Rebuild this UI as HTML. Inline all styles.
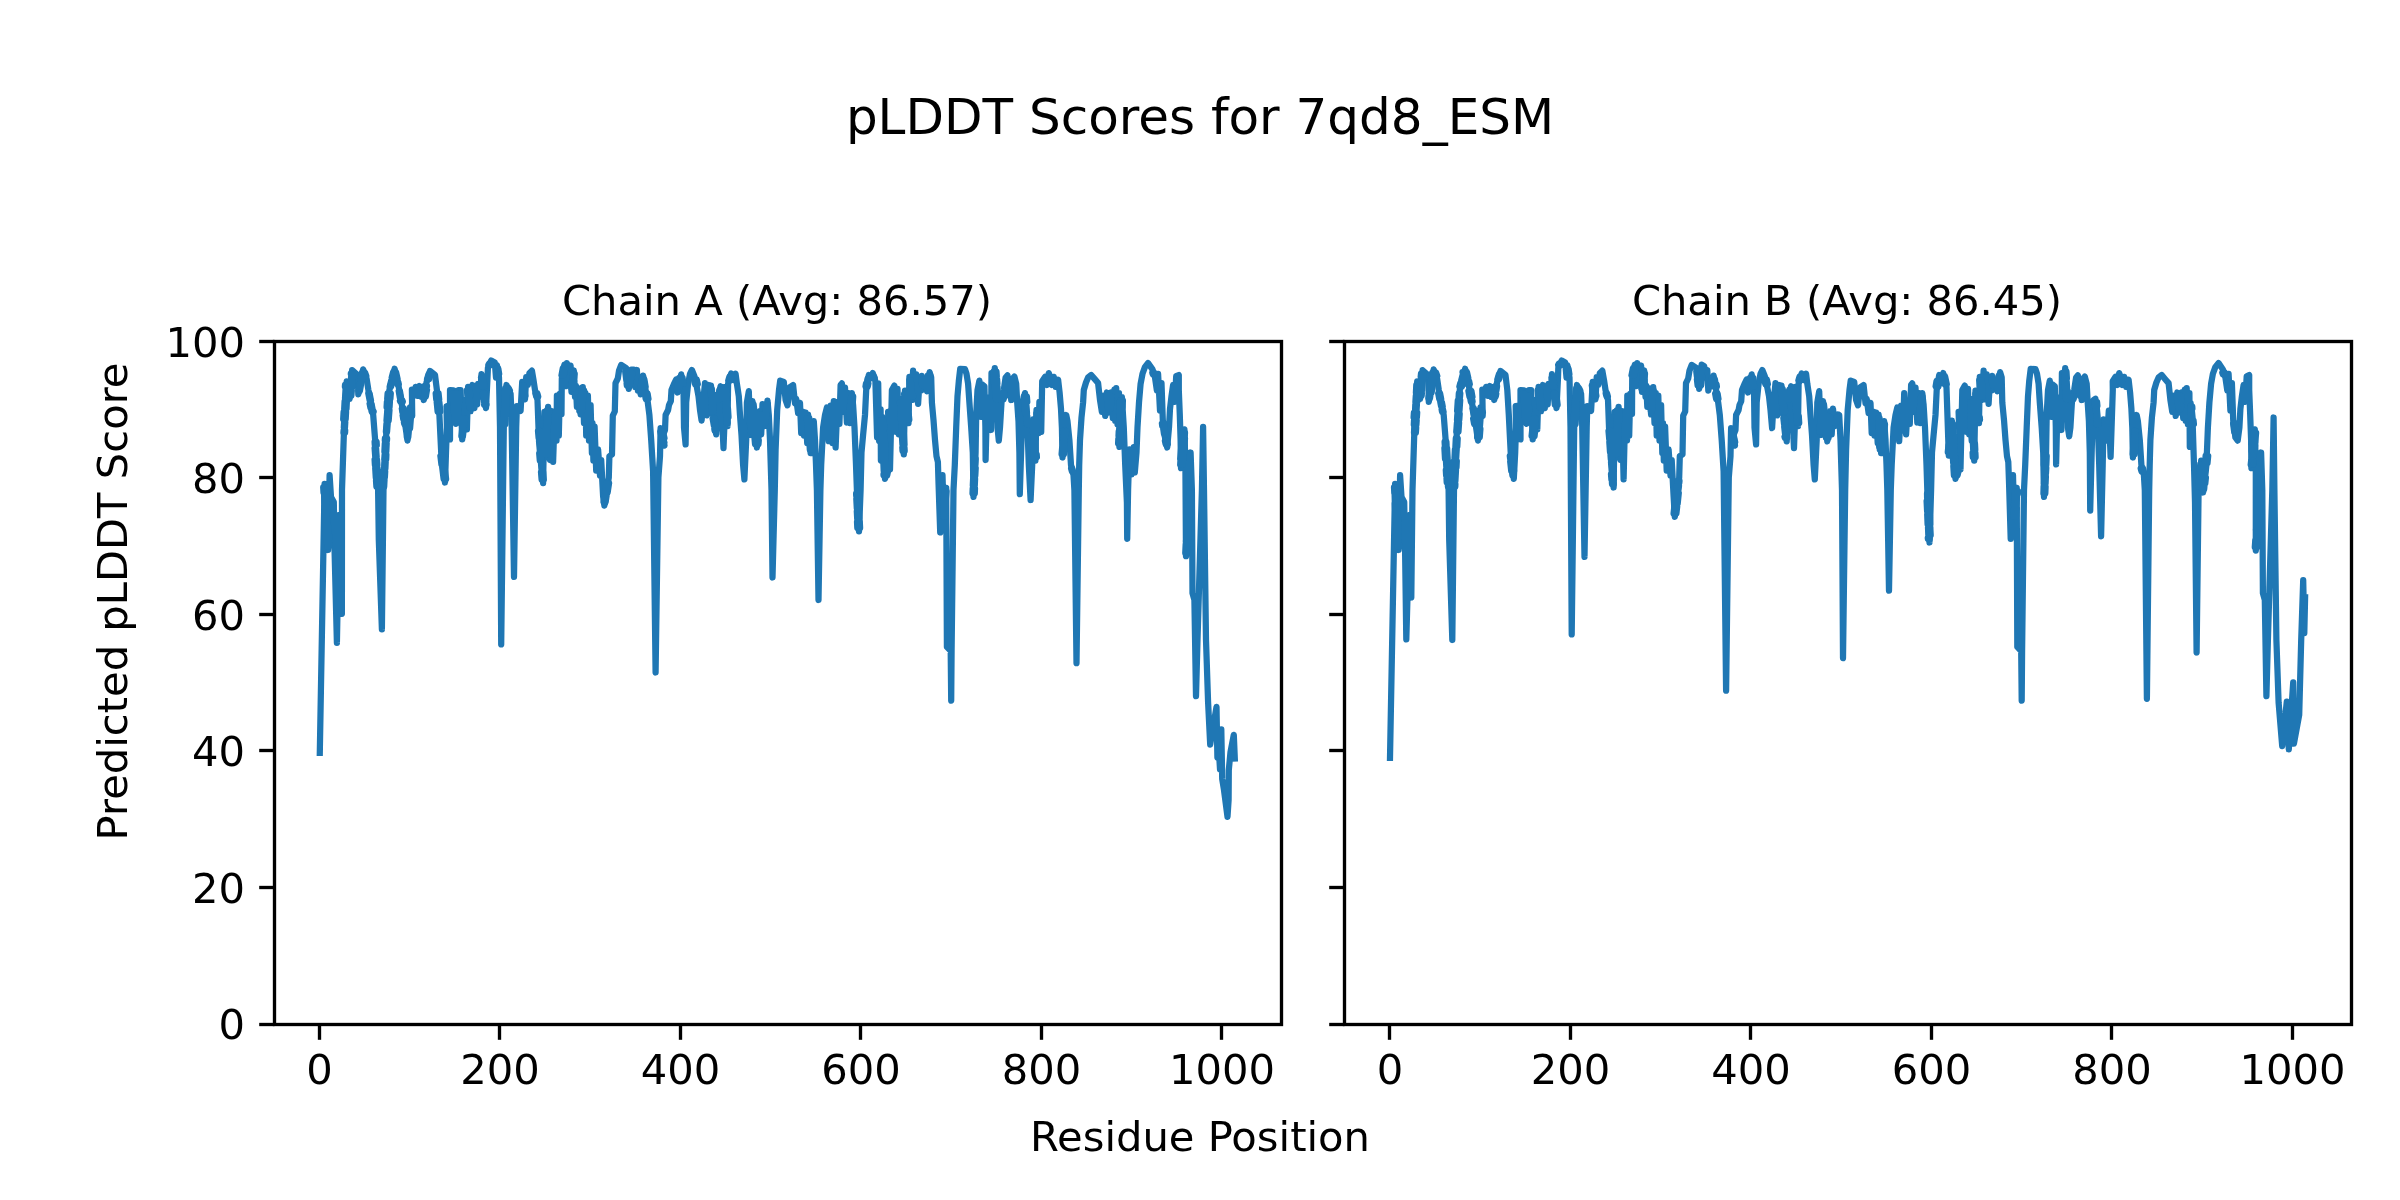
<!DOCTYPE html>
<html lang="en"><head><meta charset="utf-8"><title>pLDDT Scores for 7qd8_ESM</title>
<style>html,body{margin:0;padding:0;background:#fff;width:2400px;height:1200px;overflow:hidden}svg{display:block;will-change:transform;-webkit-font-smoothing:antialiased}text{font-family:"DejaVu Sans","Liberation Sans",sans-serif;fill:#000}.t{font-size:41.667px}.T{font-size:50.000px}.sp{fill:none;stroke:#000;stroke-width:3.333;stroke-linejoin:miter;stroke-linecap:square}.tk{stroke:#000;stroke-width:3.333;fill:none}.ln{fill:none;stroke:#1f77b4;stroke-width:6.25;stroke-linejoin:round;stroke-linecap:square}</style></head><body>
<svg width="2400" height="1200" viewBox="0 0 2400 1200">
<rect x="0" y="0" width="2400" height="1200" fill="#fff"/>
<text class="T" x="1200" y="134.00" text-anchor="middle">pLDDT Scores for 7qd8_ESM</text>
<clipPath id="c0"><rect x="274.50" y="341.50" width="1007.00" height="683.00"/></clipPath>
<polyline class="ln" clip-path="url(#c0)" points="319.8,752.9 324.6,483.9 328.1,550.0 329.6,475.2 331.0,497.0 333.8,502.0 334.6,552.0 336.9,642.9 339.3,515.0 341.9,613.8 342.0,490.0 343.8,436.0 346.7,381.3 349.6,399.0 352.1,370.2 357.9,375.4 358.3,394.4 363.1,369.4 366.7,379.2 368.4,390.0 373.2,415.0 375.0,438.3 378.1,490.0 378.8,540.0 381.9,629.4 383.5,490.0 386.2,435.0 389.4,390.0 394.6,368.7 398.8,387.5 401.9,405.0 405.6,427.5 407.5,440.6 410.0,407.5 412.2,415.9 411.9,389.6 414.0,395.6 415.6,386.9 417.5,395.9 419.4,386.0 421.0,396.9 422.2,387.1 423.8,400.0 426.5,382.5 430.0,370.9 435.0,375.0 436.9,390.0 439.4,415.0 441.2,452.5 445.0,482.5 446.0,452.5 446.9,427.5 446.5,406.2 449.0,405.6 450.0,439.4 450.0,390.0 453.5,390.4 456.0,423.8 458.5,390.0 460.6,390.0 462.2,439.4 464.8,415.0 465.2,400.0 466.9,429.4 468.1,386.9 470.6,411.2 472.5,385.0 474.4,408.1 475.6,386.2 477.2,404.4 478.1,383.8 480.0,396.9 481.5,374.1 483.8,390.0 486.0,408.1 487.5,377.5 487.9,368.1 491.2,360.6 494.8,362.5 496.0,377.5 496.9,365.0 499.0,377.5 500.0,427.5 501.2,644.4 503.8,427.5 506.5,385.0 510.6,393.8 511.5,415.0 514.0,576.9 516.2,427.5 516.9,406.2 520.6,410.9 522.2,381.9 525.0,399.4 526.2,377.1 527.8,385.0 529.4,373.1 531.9,370.6 533.5,380.0 535.0,390.0 537.5,400.0 538.5,427.5 543.1,483.1 544.4,411.9 546.0,457.5 548.1,406.9 550.0,460.0 551.5,411.2 553.1,461.9 554.8,411.6 556.5,440.6 556.9,395.6 558.8,435.6 559.8,393.8 561.5,414.1 561.8,378.8 564.4,364.6 565.6,386.2 566.9,363.1 568.8,373.8 570.6,365.6 571.5,391.9 573.8,370.4 575.0,396.9 575.9,385.9 576.9,406.9 578.8,388.4 580.6,414.4 582.8,387.1 584.0,423.1 585.4,393.1 586.2,435.6 587.9,395.6 589.0,440.6 590.6,405.0 591.9,453.1 592.5,423.1 593.4,460.6 594.6,426.6 596.2,470.6 598.1,449.4 600.0,475.6 601.2,460.0 603.1,496.2 604.4,505.6 608.8,477.5 609.4,456.2 612.0,454.4 612.8,415.6 614.8,411.5 615.5,383.1 617.8,378.5 619.0,370.6 621.2,365.0 626.2,368.1 628.8,388.8 631.2,369.6 633.8,369.6 635.2,386.9 636.9,370.0 637.9,390.6 639.0,383.8 640.6,394.4 643.1,375.6 645.6,390.0 647.8,402.5 649.4,415.0 651.2,440.0 653.1,471.2 655.6,672.5 658.4,477.5 660.0,456.2 660.6,428.1 664.5,445.6 663.0,435.0 665.0,430.0 665.6,415.0 668.1,410.0 669.0,405.0 670.8,401.2 671.5,390.0 674.0,383.8 676.2,379.4 677.5,392.5 681.2,374.4 683.5,390.0 684.0,427.5 685.6,444.4 686.2,402.5 688.1,383.8 690.0,373.8 691.9,370.0 694.4,376.2 696.9,387.5 698.5,396.2 700.0,410.0 701.6,420.6 703.1,402.5 705.0,383.1 706.9,415.4 708.8,385.0 710.2,412.5 711.0,385.6 713.1,415.0 716.2,434.4 717.5,402.5 720.6,386.2 722.5,427.5 723.5,448.1 724.8,415.0 725.0,386.9 727.5,426.2 728.1,383.8 731.2,373.4 733.4,380.0 735.6,373.8 736.9,383.8 738.8,396.2 740.0,415.0 741.5,435.0 743.1,465.0 744.4,479.4 746.2,440.0 746.9,402.5 748.8,391.2 750.4,435.0 752.5,401.2 756.9,447.5 759.8,411.2 761.2,434.4 762.5,404.1 764.4,426.2 767.5,400.6 768.8,415.0 770.0,440.0 771.5,490.0 772.5,577.5 774.8,490.0 775.6,450.0 777.2,410.0 779.0,390.0 780.2,380.6 783.8,381.9 785.6,400.0 787.5,405.4 789.4,390.0 790.0,387.1 793.1,385.0 795.0,403.1 796.2,398.8 798.1,413.1 800.0,402.9 801.2,433.1 802.5,411.6 804.0,435.6 805.6,412.5 807.2,443.1 808.1,414.6 810.6,453.1 813.8,421.2 815.0,440.0 816.0,465.0 816.9,490.0 818.5,600.0 820.4,490.0 821.2,465.0 823.1,427.5 825.0,415.0 826.9,407.5 828.8,441.2 830.6,405.6 832.5,443.1 833.8,401.2 835.6,447.5 837.5,401.9 839.4,423.8 840.6,385.0 841.9,383.4 843.5,411.9 845.0,387.5 846.9,422.5 848.5,393.1 849.8,423.1 851.9,393.1 853.1,405.0 854.5,427.5 856.0,465.0 856.9,490.0 859.0,531.3 860.6,490.0 861.5,452.5 863.1,435.0 865.0,415.0 866.2,390.0 868.8,375.0 870.6,378.1 872.8,373.1 875.4,381.2 877.1,437.5 878.2,383.4 879.1,440.9 880.6,409.4 880.9,460.6 882.2,416.9 885.0,478.8 888.1,465.0 889.4,440.0 888.1,411.9 890.0,469.4 891.9,390.0 894.4,385.6 896.0,431.9 897.5,388.8 898.8,434.4 900.6,398.8 903.8,454.4 905.0,390.6 908.5,423.1 909.4,376.9 911.9,400.0 913.1,370.6 914.4,399.4 916.2,374.4 918.1,403.8 919.8,376.9 921.0,390.6 921.9,375.9 924.0,389.4 925.0,384.4 926.9,391.2 929.6,372.1 931.2,377.5 931.9,402.5 933.5,420.0 935.0,440.0 936.5,456.2 937.9,462.0 938.6,485.0 940.2,532.5 942.5,475.2 943.8,520.0 946.2,487.9 946.9,646.9 950.7,651.0 951.2,700.6 951.6,650.0 953.5,490.0 954.8,465.0 956.2,427.5 957.5,396.2 958.8,381.2 960.2,368.8 965.0,369.1 966.5,373.8 968.1,383.8 969.4,402.5 971.2,427.5 972.8,452.5 973.5,496.9 975.6,452.5 976.2,415.0 977.5,390.0 979.4,380.6 981.0,416.9 981.9,384.4 984.4,386.2 985.4,427.5 985.6,460.0 987.2,397.5 989.4,397.5 991.0,430.0 991.5,373.1 993.1,419.4 994.8,368.1 996.9,402.5 997.5,427.5 998.8,440.6 1000.0,427.5 1001.5,402.5 1003.8,390.0 1005.6,377.5 1007.5,375.4 1009.4,395.6 1010.2,379.4 1011.2,400.0 1012.5,378.8 1014.4,376.6 1016.2,383.8 1017.2,402.5 1018.5,421.2 1019.4,452.5 1019.8,494.1 1021.9,427.5 1023.1,400.0 1025.0,393.1 1027.5,427.5 1028.8,465.0 1030.6,500.0 1032.2,465.0 1033.1,419.4 1035.4,460.6 1036.5,410.0 1038.5,433.1 1039.4,401.9 1041.2,431.9 1042.2,381.2 1045.0,376.9 1046.9,385.0 1048.8,373.1 1051.9,385.0 1053.8,376.9 1055.6,386.9 1058.1,379.6 1059.6,392.5 1061.0,408.8 1061.9,427.5 1062.5,457.5 1065.0,427.5 1066.2,415.0 1067.5,421.2 1069.4,440.0 1071.0,465.0 1073.5,475.0 1074.4,490.0 1076.5,663.1 1078.8,490.0 1079.2,465.0 1080.0,440.0 1081.5,417.5 1083.1,402.5 1083.8,390.0 1086.0,382.5 1088.1,377.5 1091.2,375.0 1095.0,379.4 1098.1,383.1 1100.0,400.0 1101.9,411.9 1103.8,395.6 1105.2,415.9 1106.9,392.5 1109.0,412.5 1111.2,392.5 1112.8,418.1 1114.4,389.6 1115.2,420.9 1116.2,388.1 1117.5,424.4 1119.0,393.1 1119.4,446.9 1121.9,397.1 1123.8,427.5 1125.2,465.0 1126.9,502.5 1127.2,538.8 1128.1,490.0 1129.4,449.4 1131.5,474.4 1133.8,447.1 1134.8,472.5 1136.5,452.5 1137.5,427.5 1139.0,402.5 1140.6,383.8 1142.5,373.8 1145.0,366.9 1148.1,363.1 1152.5,369.4 1155.0,377.5 1156.9,390.6 1158.1,373.8 1160.0,410.6 1161.5,383.1 1162.8,420.0 1165.0,437.5 1167.2,447.5 1169.0,427.5 1170.0,408.8 1171.5,396.2 1173.1,385.0 1174.8,401.9 1176.2,376.2 1178.8,375.0 1178.8,390.0 1179.8,415.0 1180.6,440.0 1181.0,468.1 1184.4,429.4 1185.4,465.0 1186.0,556.2 1190.0,490.0 1190.6,452.5 1191.9,490.0 1192.5,593.1 1194.4,600.0 1196.0,696.2 1197.5,640.0 1201.9,490.0 1203.1,426.9 1204.0,490.0 1206.0,640.0 1208.1,702.5 1210.2,744.6 1216.5,706.9 1217.4,757.4 1219.0,752.0 1220.0,769.4 1221.3,729.4 1222.2,778.9 1224.0,790.0 1227.5,816.9 1228.6,800.0 1228.8,770.0 1230.5,752.0 1233.8,734.9 1234.8,758.5"/>
<path class="ln" style="stroke-linecap:round" clip-path="url(#c0)" d="M325.9 487.4L326.2 492.6M323.2 487.4L323.5 492.6M326.3 495.6L326.7 502.8M324.1 495.6L324.4 502.8M326.8 505.8L327.1 511.1M324.5 505.8L324.8 511.1M326.7 514.1L327.2 523.6M325.4 514.1L325.9 523.6M328.3 526.6L328.6 531.3M325.6 526.6L325.8 531.3M328.9 534.3L329.2 538.5M325.6 534.3L325.8 538.5M328.9 541.5L329.1 546.5M327.0 541.5L327.3 546.5M345.1 432.5L345.2 430.4M343.5 432.5L343.6 430.4M345.0 427.4L345.3 422.1M343.8 427.4L344.1 422.1M345.7 419.1L346.1 411.8M343.2 419.1L343.6 411.8M346.5 408.9L346.9 401.2M344.2 408.9L344.6 401.2M346.8 398.2L347.3 389.6M345.0 398.2L345.5 389.6M348.1 386.6L348.2 384.8M344.9 386.6L345.0 384.8M348.1 384.8L349.2 391.6M346.6 384.8L347.7 391.6M349.4 394.6L349.5 395.5M347.5 394.6L347.6 395.5M351.4 395.5L351.8 390.7M349.0 395.5L349.4 390.7M352.1 387.7L353.0 377.0M350.2 387.7L351.1 377.0M353.3 374.1L353.4 373.7M350.8 374.1L350.8 373.7M359.9 390.9L361.5 382.2M358.5 390.9L360.1 382.2M362.6 379.3L363.9 372.8M360.4 379.3L361.7 372.8M365.1 372.7L366.3 375.9M362.7 372.7L363.8 375.9M369.6 393.4L371.0 400.6M368.3 393.4L369.7 400.6M371.5 403.6L372.4 408.2M369.6 403.6L370.5 408.2M373.6 411.1L373.7 411.6M371.5 411.1L371.6 411.6M376.6 441.8L376.8 445.1M374.6 441.8L374.8 445.1M376.1 448.1L376.6 456.6M374.6 448.1L375.2 456.6M377.0 459.6L377.4 465.1M374.6 459.6L374.9 465.1M377.6 468.1L378.2 477.7M375.2 468.1L375.8 477.7M378.5 480.7L378.8 486.5M376.0 480.7L376.4 486.5M384.2 486.5L384.5 480.0M382.0 486.5L382.3 480.0M384.9 477.0L385.2 471.5M382.7 477.0L383.0 471.5M385.4 468.5L385.7 462.2M384.1 468.5L384.4 462.2M386.2 459.3L386.4 454.6M384.3 459.3L384.6 454.6M386.3 451.6L386.7 443.4M384.4 451.6L384.8 443.4M387.0 440.4L387.1 438.5M384.8 440.4L384.9 438.5M387.1 431.5L387.7 423.5M385.9 431.5L386.5 423.5M388.7 420.5L389.5 410.1M386.5 420.5L387.3 410.1M389.6 407.1L389.9 401.8M386.6 407.1L386.9 401.8M390.4 398.8L390.8 393.5M387.2 398.8L387.6 393.5M391.2 386.6L392.7 380.6M389.7 386.6L391.2 380.6M394.1 377.6L395.4 372.1M391.7 377.6L393.1 372.1M396.1 372.1L397.6 378.9M393.9 372.1L395.4 378.9M398.3 381.8L398.8 384.1M396.9 381.8L397.4 384.1M399.9 390.9L401.1 397.9M398.7 390.9L399.9 397.9M402.6 400.8L402.8 401.6M399.9 400.8L400.1 401.6M404.0 408.5L404.7 412.4M401.8 408.5L402.4 412.4M404.3 415.3L405.0 419.4M402.6 415.3L403.3 419.4M405.4 422.3L405.7 424.0M403.9 422.3L404.2 424.0M408.3 437.1L408.8 431.1M406.9 437.1L407.3 431.1M410.1 428.2L410.9 417.9M407.2 428.2L408.0 417.9M410.6 415.0L410.9 411.0M408.9 415.0L409.2 411.0M411.3 410.9L411.8 412.5M409.3 410.9L409.8 412.5M425.9 396.5L427.0 389.7M423.9 396.5L424.9 389.7M426.9 386.8L427.0 386.0M424.5 386.8L424.6 386.0M429.2 379.1L430.7 374.2M427.0 379.1L428.5 374.2M438.6 393.5L439.2 399.3M435.7 393.5L436.2 399.3M439.4 402.3L440.3 411.5M436.7 402.3L437.6 411.5M442.5 456.0L443.6 464.3M440.4 456.0L441.4 464.3M444.6 467.3L446.1 479.0M442.2 467.3L443.6 479.0M455.3 393.9L455.8 401.4M452.6 393.9L453.2 401.4M455.4 404.4L456.1 412.7M453.4 404.4L454.0 412.7M455.9 415.7L456.2 420.3M454.2 415.7L454.5 420.3M457.8 420.3L458.5 411.3M454.9 420.3L455.6 411.3M458.5 408.3L459.0 401.6M456.0 408.3L456.5 401.6M459.3 398.6L459.7 393.5M457.4 398.6L457.7 393.5M463.0 435.9L463.8 428.7M461.4 435.9L462.2 428.7M464.4 425.7L465.1 418.5M462.3 425.7L463.1 418.5M469.7 390.4L470.2 395.8M466.9 390.4L467.4 395.8M469.8 398.8L470.4 404.6M468.6 398.8L469.1 404.6M470.9 407.5L470.9 407.8M469.6 407.5L469.6 407.8M483.2 377.6L484.5 386.5M481.0 377.6L482.3 386.5M485.0 393.5L486.0 401.7M482.9 393.5L483.9 401.7M486.5 404.6L486.5 404.7M484.1 404.6L484.1 404.7M490.9 364.9L491.4 363.8M488.4 364.9L488.9 363.8M498.3 368.5L499.2 374.0M496.9 368.5L497.8 374.0M505.5 424.0L505.8 418.5M502.5 424.0L502.8 418.5M506.2 415.5L506.7 406.6M503.8 415.5L504.3 406.6M506.3 403.6L506.6 398.4M504.5 403.6L504.9 398.4M506.8 395.4L507.2 388.5M504.6 395.4L505.1 388.5M508.8 388.2L509.9 390.6M506.5 388.2L507.6 390.6M523.8 385.3L525.4 395.9M522.3 385.3L524.0 395.9M537.4 393.4L538.2 396.6M535.4 393.4L536.2 396.6M539.9 431.0L540.5 437.9M538.0 431.0L538.6 437.9M540.0 440.9L540.8 450.4M539.0 440.9L539.8 450.4M541.1 453.4L541.7 460.6M539.2 453.4L539.8 460.6M542.1 463.6L542.6 469.2M541.0 463.6L541.5 469.2M543.2 472.2L543.8 479.6M541.0 472.2L541.6 479.6M547.6 454.0L547.9 447.4M544.5 454.0L544.8 447.4M547.2 444.4L547.6 435.6M545.5 444.4L545.9 435.6M547.5 432.6L547.7 427.4M546.0 432.6L546.2 427.4M548.0 424.4L548.4 415.4M546.6 424.4L547.0 415.4M549.2 412.4L549.3 410.4M546.8 412.4L546.9 410.4M563.8 375.3L565.1 368.1M561.5 375.3L562.8 368.1M573.4 388.4L574.2 380.9M571.4 388.4L572.1 380.9M574.3 377.9L574.7 373.9M572.4 377.9L572.8 373.9M582.1 410.9L582.5 405.7M579.3 410.9L579.7 405.7M582.7 402.7L583.2 396.1M580.0 402.7L580.5 396.1M583.9 393.1L584.1 390.6M581.3 393.1L581.5 390.6M605.6 502.2L606.6 495.7M603.6 502.2L604.6 495.7M607.6 492.7L609.1 483.1M605.0 492.7L606.5 483.1M627.8 371.6L628.8 380.4M625.2 371.6L626.3 380.4M629.7 383.4L629.9 385.3M626.6 383.4L626.8 385.3M629.7 385.3L630.3 380.9M628.2 385.3L628.8 380.9M631.6 377.9L632.2 373.1M629.1 377.9L629.8 373.1M642.5 390.9L642.8 388.7M640.6 390.9L640.9 388.7M642.4 385.8L643.3 379.1M640.9 385.8L641.8 379.1M644.3 379.1L645.6 386.6M643.1 379.1L644.4 386.6M647.6 393.5L648.5 399.0M644.7 393.5L645.7 399.0M663.0 431.5L664.5 438.2M660.3 431.5L661.8 438.2M664.0 441.1L664.3 442.2M662.8 441.1L663.1 442.2M679.0 389.1L680.1 383.5M676.9 389.1L678.0 383.5M681.0 380.6L681.6 377.8M678.5 380.6L679.0 377.8M682.6 377.8L683.4 383.7M680.9 377.8L681.7 383.7M696.8 379.7L697.8 384.1M694.1 379.7L695.0 384.1M711.9 389.1L712.3 395.1M710.2 389.1L710.6 395.1M713.1 398.1L713.6 405.6M711.5 398.1L712.0 405.6M713.7 408.6L713.9 411.5M711.7 408.6L712.0 411.5M714.8 418.5L716.0 426.0M712.6 418.5L713.9 426.0M715.9 428.9L716.2 430.9M714.3 428.9L714.6 430.9M719.8 399.1L720.7 394.3M716.6 399.1L717.5 394.3M720.7 391.3L721.0 389.7M719.1 391.3L719.4 389.7M726.7 390.4L727.0 395.4M723.7 390.4L724.0 395.4M726.5 398.4L727.0 405.7M725.1 398.4L725.5 405.7M728.0 408.7L728.5 417.0M725.8 408.7L726.3 417.0M727.5 420.0L727.7 422.8M726.5 420.0L726.6 422.8M730.4 380.4L731.5 376.7M728.3 380.4L729.4 376.7M751.8 431.5L752.1 427.0M750.1 431.5L750.3 427.0M751.6 424.0L752.2 414.9M750.0 424.0L750.6 414.9M752.5 411.9L752.9 404.7M750.7 411.9L751.2 404.7M753.7 404.7L754.2 409.8M751.9 404.7L752.4 409.8M754.2 412.8L754.9 420.4M752.9 412.8L753.6 420.4M755.8 423.4L756.6 431.8M753.5 423.4L754.3 431.8M756.9 434.8L757.7 444.0M754.2 434.8L755.0 444.0M758.5 444.0L758.8 440.4M755.7 444.0L756.0 440.4M758.5 437.4L759.3 427.1M756.9 437.4L757.7 427.1M759.4 424.1L760.2 414.7M757.0 424.1L757.8 414.7M765.4 422.8L766.4 414.6M764.1 422.8L765.1 414.6M766.9 411.6L767.8 404.1M765.6 411.6L766.6 404.1M809.3 418.1L809.8 425.9M806.9 418.1L807.4 425.9M810.0 428.9L810.3 433.8M807.8 428.9L808.1 433.8M810.2 436.8L810.5 440.9M808.3 436.8L808.5 440.9M811.7 443.9L812.1 449.6M809.5 443.9L809.8 449.6M812.4 449.6L812.9 444.1M809.9 449.6L810.5 444.1M812.4 441.1L813.3 432.4M811.3 441.1L812.2 432.4M813.4 429.4L813.9 424.7M811.8 429.4L812.3 424.7M851.1 419.6L851.5 414.0M849.4 419.6L849.8 414.0M851.3 411.1L851.6 405.8M849.1 411.1L849.5 405.8M852.8 402.8L853.2 396.6M850.7 402.8L851.1 396.6M858.7 493.5L858.8 495.9M856.1 493.5L856.2 495.9M858.2 498.9L858.6 508.3M856.3 498.9L856.8 508.3M858.9 511.3L859.3 518.9M856.8 511.3L857.2 518.9M859.8 521.9L860.1 527.8M857.0 521.9L857.3 527.8M867.8 386.5L868.4 383.3M865.5 386.5L866.0 383.3M868.5 380.4L868.8 378.5M867.2 380.4L867.6 378.5M874.2 376.5L874.7 377.9M872.3 376.5L872.7 377.9M883.7 420.4L884.1 428.0M880.9 420.4L881.2 428.0M883.8 431.0L884.2 439.4M881.7 431.0L882.1 439.4M885.1 442.4L885.4 449.9M881.9 442.4L882.3 449.9M885.4 452.9L885.7 458.7M882.5 452.9L882.7 458.7M885.7 461.7L886.1 471.1M883.3 461.7L883.7 471.1M886.3 474.1L886.4 475.3M883.5 474.1L883.5 475.3M887.2 475.3L888.7 468.4M884.8 475.3L886.4 468.4M901.3 402.2L901.7 409.3M900.0 402.2L900.4 409.3M901.8 412.3L902.2 419.6M900.5 412.3L900.9 419.6M903.2 422.6L903.6 431.0M901.3 422.6L901.7 431.0M903.9 434.0L904.5 444.6M901.8 434.0L902.4 444.6M904.5 447.6L904.7 450.9M902.3 447.6L902.5 450.9M907.1 394.1L907.6 398.8M904.1 394.1L904.6 398.8M907.6 401.8L908.5 410.6M904.5 401.8L905.5 410.6M908.7 413.6L909.3 419.6M906.1 413.6L906.8 419.6M910.7 380.4L911.1 384.1M909.3 380.4L909.7 384.1M911.4 387.1L911.9 392.4M910.0 387.1L910.5 392.4M913.0 395.4L913.1 396.5M910.3 395.4L910.4 396.5M924.1 379.3L925.1 385.9M921.3 379.3L922.3 385.9M928.6 387.8L929.9 378.9M925.9 387.8L927.2 378.9M930.3 375.9L930.3 375.6M927.7 375.9L927.7 375.6M945.7 516.5L945.9 514.2M943.5 516.5L943.6 514.2M945.1 511.2L945.6 503.9M943.4 511.2L944.0 503.9M945.7 500.9L946.5 491.4M943.6 500.9L944.4 491.4M974.8 493.4L975.0 488.4M972.5 493.4L972.7 488.4M974.8 485.4L975.1 478.9M972.8 485.4L973.1 478.9M975.3 475.9L975.7 468.0M973.2 475.9L973.6 468.0M975.4 465.0L975.7 458.9M974.3 465.0L974.6 458.9M996.5 371.6L996.8 376.3M993.6 371.6L993.9 376.3M997.1 379.3L997.4 383.7M993.8 379.3L994.1 383.7M997.5 386.7L997.8 391.2M994.9 386.7L995.2 391.2M998.0 394.2L998.3 399.0M995.6 394.2L995.9 399.0M1003.7 399.1L1004.7 393.4M1000.8 399.1L1001.8 393.4M1026.9 396.6L1027.3 401.9M1023.8 396.6L1024.2 401.9M1026.4 404.9L1027.0 413.1M1024.6 404.9L1025.2 413.1M1027.3 416.1L1027.9 424.0M1026.2 416.1L1026.8 424.0M1033.9 422.9L1034.2 428.6M1032.3 422.9L1032.7 428.6M1034.8 431.6L1035.3 440.2M1033.0 431.6L1033.5 440.2M1035.4 443.2L1035.8 451.3M1033.0 443.2L1033.5 451.3M1036.7 454.3L1036.9 457.1M1033.4 454.3L1033.5 457.1M1037.5 413.5L1038.1 420.6M1036.3 413.5L1036.9 420.6M1039.1 423.6L1039.6 429.6M1036.5 423.6L1037.0 429.6M1050.4 376.5L1051.7 381.6M1048.4 376.5L1049.7 381.6M1064.0 454.0L1064.5 448.1M1061.6 454.0L1062.1 448.1M1064.2 445.1L1065.0 435.8M1062.8 445.1L1063.6 435.8M1066.1 432.9L1066.3 431.0M1063.0 432.9L1063.2 431.0M1072.3 468.4L1073.1 471.6M1071.1 468.4L1071.9 471.6M1108.5 396.0L1109.0 400.9M1106.7 396.0L1107.2 400.9M1108.6 403.9L1109.1 409.0M1107.6 403.9L1108.1 409.0M1110.5 409.0L1111.3 402.3M1108.2 409.0L1108.9 402.3M1111.5 399.3L1111.9 396.0M1109.8 399.3L1110.2 396.0M1120.9 443.4L1121.1 439.0M1118.1 443.4L1118.3 439.0M1120.5 436.0L1120.7 431.5M1118.5 436.0L1118.7 431.5M1121.7 428.5L1122.1 420.1M1119.6 428.5L1120.0 420.1M1121.6 417.1L1122.0 410.2M1119.4 417.1L1119.8 410.2M1122.6 407.2L1122.9 400.6M1119.7 407.2L1120.0 400.6M1130.8 452.9L1131.1 457.1M1128.3 452.9L1128.7 457.1M1131.2 460.1L1132.2 470.9M1129.4 460.1L1130.3 470.9M1133.3 470.9L1133.5 468.2M1131.3 470.9L1131.5 468.2M1133.4 465.2L1133.8 460.7M1131.2 465.2L1131.6 460.7M1133.7 457.7L1134.3 450.6M1131.5 457.7L1132.1 450.6M1154.2 372.7L1154.6 374.2M1152.3 372.7L1152.7 374.2M1164.0 423.5L1164.3 426.0M1161.9 423.5L1162.2 426.0M1164.7 429.0L1165.3 434.0M1163.3 429.0L1164.0 434.0M1167.1 440.9L1167.8 444.1M1164.9 440.9L1165.6 444.1M1182.6 464.6L1182.9 461.8M1180.2 464.6L1180.4 461.8M1183.4 458.8L1184.3 448.4M1180.2 458.8L1181.1 448.4M1184.4 445.5L1185.0 438.4M1182.2 445.5L1182.8 438.4M1184.8 435.4L1185.0 432.9M1182.2 435.4L1182.5 432.9M1186.9 552.8L1187.4 544.5M1185.3 552.8L1185.8 544.5M1187.8 541.5L1188.2 535.0M1186.0 541.5L1186.4 535.0M1188.1 532.0L1188.5 525.3M1186.3 532.0L1186.7 525.3M1189.2 522.3L1189.7 512.7M1186.6 522.3L1187.1 512.7M1189.4 509.7L1189.9 501.8M1187.4 509.7L1187.9 501.8M1190.2 498.8L1190.6 493.5M1189.0 498.8L1189.4 493.5"/>
<line class="tk" x1="319.50" y1="1024.50" x2="319.50" y2="1039.80"/>
<text class="t" x="319.47" y="1084.00" text-anchor="middle">0</text>
<line class="tk" x1="499.50" y1="1024.50" x2="499.50" y2="1039.80"/>
<text class="t" x="499.98" y="1084.00" text-anchor="middle">200</text>
<line class="tk" x1="680.50" y1="1024.50" x2="680.50" y2="1039.80"/>
<text class="t" x="680.48" y="1084.00" text-anchor="middle">400</text>
<line class="tk" x1="860.50" y1="1024.50" x2="860.50" y2="1039.80"/>
<text class="t" x="860.98" y="1084.00" text-anchor="middle">600</text>
<line class="tk" x1="1041.50" y1="1024.50" x2="1041.50" y2="1039.80"/>
<text class="t" x="1041.49" y="1084.00" text-anchor="middle">800</text>
<line class="tk" x1="1221.50" y1="1024.50" x2="1221.50" y2="1039.80"/>
<text class="t" x="1221.99" y="1084.00" text-anchor="middle">1000</text>
<line class="tk" x1="259.20" y1="1024.50" x2="274.50" y2="1024.50"/>
<text class="t" x="245.00" y="1039.33" text-anchor="end">0</text>
<line class="tk" x1="259.20" y1="887.50" x2="274.50" y2="887.50"/>
<text class="t" x="245.00" y="902.76" text-anchor="end">20</text>
<line class="tk" x1="259.20" y1="750.50" x2="274.50" y2="750.50"/>
<text class="t" x="245.00" y="766.20" text-anchor="end">40</text>
<line class="tk" x1="259.20" y1="614.50" x2="274.50" y2="614.50"/>
<text class="t" x="245.00" y="629.63" text-anchor="end">60</text>
<line class="tk" x1="259.20" y1="477.50" x2="274.50" y2="477.50"/>
<text class="t" x="245.00" y="493.07" text-anchor="end">80</text>
<line class="tk" x1="259.20" y1="341.50" x2="274.50" y2="341.50"/>
<text class="t" x="245.00" y="356.50" text-anchor="end">100</text>
<rect class="sp" x="274.50" y="341.50" width="1007.00" height="683.00"/>
<text class="t" x="777.00" y="315.20" text-anchor="middle">Chain A (Avg: 86.57)</text>
<clipPath id="c1"><rect x="1344.50" y="341.50" width="1007.00" height="683.00"/></clipPath>
<polyline class="ln" clip-path="url(#c1)" points="1390.0,757.9 1395.1,483.9 1398.6,550.0 1400.1,475.2 1401.5,497.0 1404.2,502.0 1405.1,552.0 1406.3,639.4 1409.8,515.0 1411.3,597.5 1412.5,490.0 1414.2,436.0 1417.2,381.3 1420.1,399.0 1422.6,370.2 1428.3,375.4 1428.8,401.9 1433.6,369.4 1437.2,379.2 1438.8,390.0 1443.7,415.0 1445.5,438.3 1448.6,490.0 1449.2,540.0 1452.3,640.0 1454.0,490.0 1456.7,435.0 1459.8,390.0 1465.1,368.7 1469.2,387.5 1472.3,405.0 1476.1,427.5 1478.0,440.6 1480.5,407.5 1482.7,415.9 1482.3,389.6 1484.5,395.6 1486.1,386.9 1488.0,395.9 1489.8,386.0 1491.5,396.9 1492.7,387.1 1494.2,400.0 1497.0,382.5 1500.5,370.9 1505.5,375.0 1507.3,390.0 1508.8,415.0 1510.7,452.5 1513.8,478.8 1515.2,452.5 1516.0,427.5 1515.7,406.2 1519.5,405.6 1520.5,439.4 1520.5,390.0 1524.0,390.4 1526.5,423.8 1529.0,390.0 1531.1,390.0 1532.7,439.4 1535.2,415.0 1535.7,400.0 1537.3,429.4 1538.6,386.9 1541.1,411.2 1543.0,385.0 1544.8,408.1 1546.1,386.2 1547.7,404.4 1548.6,383.8 1550.5,396.9 1552.0,374.1 1554.2,390.0 1556.5,408.1 1558.0,377.5 1558.3,368.1 1561.7,360.6 1565.2,362.5 1566.5,377.5 1567.3,365.0 1569.5,377.5 1570.5,427.5 1571.7,634.4 1574.2,427.5 1577.0,385.0 1581.1,393.8 1582.0,415.0 1584.5,556.9 1586.7,427.5 1587.3,406.2 1591.1,410.9 1592.7,381.9 1595.5,399.4 1596.7,377.1 1598.2,385.0 1599.8,373.1 1602.3,370.6 1604.0,380.0 1605.5,390.0 1608.0,400.0 1609.0,427.5 1613.6,487.5 1614.8,411.9 1616.5,457.5 1618.6,406.9 1620.5,460.0 1622.0,411.2 1623.6,479.4 1625.2,411.6 1627.0,440.6 1627.3,395.6 1629.2,435.6 1630.2,393.8 1632.0,414.1 1632.2,378.8 1634.8,364.6 1636.1,386.2 1637.3,363.1 1639.2,373.8 1641.1,365.6 1642.0,391.9 1644.2,370.4 1645.5,396.9 1646.3,385.9 1647.3,406.9 1649.2,388.4 1651.1,414.4 1653.2,387.1 1654.5,423.1 1655.8,393.1 1656.7,435.6 1658.3,395.6 1659.5,440.6 1661.1,405.0 1662.3,453.1 1663.0,423.1 1663.8,460.6 1665.1,426.6 1666.7,470.6 1668.6,449.4 1670.5,475.6 1671.7,460.0 1673.6,496.2 1674.8,516.9 1679.2,477.5 1679.8,456.2 1682.5,454.4 1683.2,415.6 1685.2,411.5 1686.0,383.1 1688.2,378.5 1689.5,370.6 1691.7,365.0 1696.7,368.1 1699.2,388.8 1701.7,364.6 1704.2,366.1 1705.7,377.9 1707.3,370.0 1708.3,390.6 1709.5,383.8 1711.1,386.3 1713.6,375.6 1716.1,390.0 1718.2,402.5 1719.8,415.0 1721.7,440.0 1723.6,471.2 1726.1,690.6 1728.8,477.5 1730.5,456.2 1731.1,428.1 1735.0,445.6 1733.5,435.0 1735.5,430.0 1736.1,415.0 1738.6,410.0 1739.5,405.0 1741.2,401.2 1742.0,390.0 1744.5,383.8 1746.7,379.4 1748.0,392.5 1751.7,374.4 1754.0,390.0 1754.5,427.5 1756.1,444.4 1756.7,402.5 1758.6,383.8 1760.5,373.8 1762.3,370.0 1764.8,376.2 1767.3,387.5 1769.0,396.2 1770.5,410.0 1772.1,428.1 1773.6,402.5 1775.5,383.1 1777.3,415.4 1779.2,385.0 1780.7,412.5 1781.5,385.6 1783.6,415.0 1786.7,441.3 1788.0,402.5 1791.1,386.2 1793.0,427.5 1794.0,448.1 1795.2,415.0 1795.5,386.9 1798.0,426.2 1798.6,383.8 1801.7,373.4 1803.8,380.0 1806.1,373.8 1807.3,383.8 1809.2,396.2 1810.5,415.0 1812.0,435.0 1813.6,465.0 1814.8,479.4 1816.7,440.0 1817.3,402.5 1819.2,391.2 1820.8,435.0 1823.0,401.2 1827.3,441.3 1830.2,411.2 1831.7,434.4 1833.0,408.7 1834.8,426.2 1838.0,414.4 1839.2,415.0 1840.5,440.0 1842.0,490.0 1843.0,658.1 1845.2,490.0 1846.1,450.0 1847.7,410.0 1849.5,390.0 1850.7,380.6 1854.2,381.9 1856.1,400.0 1858.0,405.4 1859.8,390.0 1860.5,387.1 1863.6,385.0 1865.5,403.1 1866.7,398.8 1868.6,413.1 1870.5,402.9 1871.7,433.1 1873.0,411.6 1874.5,435.6 1876.1,412.5 1877.7,443.1 1878.6,414.6 1881.1,453.1 1884.2,421.2 1885.5,440.0 1886.5,465.0 1887.3,490.0 1889.0,590.6 1890.8,490.0 1891.7,465.0 1893.6,427.5 1895.5,415.0 1897.3,407.5 1899.2,441.2 1901.1,405.6 1903.0,430.6 1904.2,393.1 1906.1,434.4 1908.0,401.9 1909.8,423.8 1911.1,385.0 1912.3,383.4 1914.0,411.9 1915.5,387.5 1917.3,422.5 1919.0,393.1 1920.2,423.1 1922.3,393.1 1923.6,405.0 1925.0,427.5 1926.5,465.0 1927.3,490.0 1929.5,542.5 1931.1,490.0 1932.0,452.5 1933.6,435.0 1935.5,415.0 1936.7,390.0 1939.2,375.0 1941.1,378.1 1943.2,373.1 1946.5,387.5 1948.8,455.6 1951.9,420.6 1955.5,478.8 1958.6,465.0 1959.8,440.0 1958.6,411.9 1960.5,469.4 1962.3,390.0 1964.8,385.6 1966.5,431.9 1968.0,388.8 1969.2,434.4 1971.1,398.8 1974.2,460.6 1975.5,390.6 1979.0,423.1 1979.8,376.9 1982.3,400.0 1983.6,370.6 1984.8,399.4 1986.7,374.4 1988.6,403.8 1990.2,376.9 1991.5,390.6 1992.3,375.9 1994.5,389.4 1995.5,384.4 1997.3,391.2 2000.1,372.1 2001.7,377.5 2002.3,402.5 2004.0,420.0 2005.5,440.0 2007.0,456.2 2008.3,462.0 2009.1,485.0 2010.7,538.8 2013.0,475.2 2014.2,520.0 2016.7,487.9 2017.3,646.9 2021.2,651.0 2021.7,700.6 2022.1,650.0 2024.0,490.0 2025.2,465.0 2026.7,427.5 2028.0,396.2 2029.2,381.2 2030.7,368.8 2035.5,369.1 2037.0,373.8 2038.6,383.8 2039.8,402.5 2041.7,427.5 2043.2,452.5 2044.0,496.9 2046.1,452.5 2046.7,415.0 2048.0,390.0 2049.8,380.6 2051.4,416.9 2052.3,384.4 2054.8,386.2 2055.8,427.5 2056.1,464.4 2057.7,397.5 2059.8,397.5 2061.4,430.0 2061.9,373.1 2063.6,419.4 2065.2,368.1 2067.3,402.5 2067.9,427.5 2069.2,436.3 2070.4,427.5 2071.9,402.5 2074.2,390.0 2076.1,377.5 2077.9,375.4 2079.8,395.6 2080.7,379.4 2081.7,400.0 2082.9,378.8 2084.8,376.6 2086.7,383.8 2087.7,402.5 2088.9,421.2 2089.8,452.5 2090.2,510.6 2092.3,427.5 2093.6,400.0 2095.4,398.7 2097.9,427.5 2099.2,465.0 2101.1,536.3 2102.7,465.0 2103.6,419.4 2105.0,420.6 2106.9,440.6 2108.8,410.6 2110.6,456.9 2112.8,390.0 2112.7,381.2 2115.4,376.9 2117.3,385.0 2119.2,373.1 2122.3,385.0 2124.2,376.9 2126.1,386.9 2128.6,379.6 2130.1,392.5 2131.4,408.8 2132.3,427.5 2132.9,457.5 2135.4,427.5 2136.7,415.0 2137.9,421.2 2139.8,440.0 2141.4,465.0 2143.9,475.0 2144.8,490.0 2146.9,698.8 2149.2,490.0 2149.7,465.0 2150.4,440.0 2151.9,417.5 2153.6,402.5 2154.2,390.0 2156.4,382.5 2158.6,377.5 2161.7,375.0 2165.4,379.4 2168.6,383.1 2170.4,400.0 2172.3,411.9 2174.2,395.6 2175.7,415.9 2177.3,392.5 2179.4,412.5 2181.7,392.5 2183.2,418.1 2184.8,389.6 2185.7,420.9 2186.7,388.1 2187.9,424.4 2189.4,393.1 2189.8,446.9 2190.6,403.1 2192.8,427.5 2194.0,465.0 2195.0,502.5 2196.6,652.5 2198.6,490.0 2201.2,460.6 2203.1,492.5 2206.9,452.5 2207.9,427.5 2209.4,402.5 2211.1,383.8 2212.9,373.8 2215.4,366.9 2218.6,363.1 2222.9,369.4 2225.4,377.5 2227.3,390.6 2228.6,373.8 2230.4,410.6 2231.9,383.1 2233.2,420.0 2235.4,437.5 2237.7,440.6 2239.4,427.5 2240.4,408.8 2241.9,396.2 2243.6,385.0 2245.2,401.9 2246.7,376.2 2249.2,375.0 2249.2,390.0 2250.2,415.0 2251.1,440.0 2251.4,468.1 2254.8,429.4 2255.8,465.0 2255.8,550.6 2260.4,490.0 2261.1,452.5 2262.3,490.0 2262.9,593.1 2264.8,600.0 2266.4,696.2 2267.9,640.0 2272.3,490.0 2273.6,417.5 2274.4,490.0 2276.4,640.0 2278.6,702.5 2282.2,746.1 2286.8,701.6 2288.8,749.4 2293.2,682.4 2293.9,743.6 2299.2,714.9 2301.2,640.0 2303.2,580.1 2304.3,633.1 2305.1,597.4"/>
<path class="ln" style="stroke-linecap:round" clip-path="url(#c1)" d="M1396.5 487.4L1396.8 492.7M1394.0 487.4L1394.3 492.7M1396.1 495.7L1396.4 500.7M1394.8 495.7L1395.1 500.7M1397.6 503.7L1397.9 509.6M1394.8 503.7L1395.1 509.6M1397.7 512.6L1398.1 520.8M1395.3 512.6L1395.7 520.8M1398.1 523.8L1398.4 528.8M1396.6 523.8L1396.8 528.8M1398.1 531.8L1398.6 542.2M1396.1 531.8L1396.7 542.2M1399.6 545.1L1399.7 546.5M1397.5 545.1L1397.5 546.5M1415.9 432.5L1416.2 427.7M1414.0 432.5L1414.3 427.7M1416.4 424.7L1416.7 420.3M1413.8 424.7L1414.0 420.3M1416.9 417.3L1417.2 412.6M1413.6 417.3L1413.9 412.6M1416.6 409.6L1416.9 404.9M1415.1 409.6L1415.3 404.9M1417.3 401.9L1417.6 395.7M1415.4 401.9L1415.8 395.7M1417.0 392.7L1417.4 384.8M1415.9 392.7L1416.3 384.8M1418.6 384.8L1419.9 392.4M1416.8 384.8L1418.0 392.4M1420.5 395.3L1420.5 395.5M1418.6 395.3L1418.6 395.5M1421.7 395.5L1421.9 393.3M1418.7 395.5L1418.9 393.3M1422.1 390.3L1423.0 379.5M1419.9 390.3L1420.9 379.5M1423.3 376.5L1423.5 373.7M1420.7 376.5L1421.0 373.7M1430.0 398.4L1430.4 395.6M1428.4 398.4L1428.8 395.6M1431.6 392.7L1432.7 385.2M1429.1 392.7L1430.2 385.2M1433.1 382.2L1433.7 378.1M1430.7 382.2L1431.3 378.1M1433.4 375.1L1433.7 372.8M1431.8 375.1L1432.1 372.8M1436.2 372.7L1437.3 375.9M1434.2 372.7L1435.4 375.9M1440.1 393.4L1441.2 399.2M1438.2 393.4L1439.3 399.2M1441.9 402.1L1442.7 406.3M1440.3 402.1L1441.1 406.3M1443.0 409.3L1443.5 411.6M1441.6 409.3L1442.0 411.6M1446.4 441.8L1446.6 445.2M1444.6 441.8L1444.8 445.2M1447.1 448.2L1447.7 458.9M1444.4 448.2L1445.0 458.9M1448.5 461.9L1448.8 467.1M1446.0 461.9L1446.3 467.1M1448.7 470.1L1449.0 475.4M1445.8 470.1L1446.1 475.4M1448.6 478.4L1448.8 482.4M1446.5 478.4L1446.7 482.4M1449.0 485.4L1449.1 486.5M1447.9 485.4L1447.9 486.5M1455.3 486.5L1455.4 484.2M1452.4 486.5L1452.6 484.2M1455.4 481.2L1456.0 470.3M1454.0 481.2L1454.5 470.3M1456.5 467.3L1456.8 461.0M1453.6 467.3L1453.9 461.0M1456.2 458.0L1456.7 449.5M1454.5 458.0L1454.9 449.5M1457.3 446.6L1457.7 438.5M1455.4 446.6L1455.8 438.5M1458.5 431.5L1459.1 422.9M1456.3 431.5L1456.9 422.9M1459.3 419.9L1459.7 413.9M1457.0 419.9L1457.4 413.9M1459.5 410.9L1460.2 400.3M1457.1 410.9L1457.8 400.3M1460.0 397.3L1460.3 393.5M1458.6 397.3L1458.8 393.5M1462.0 386.6L1462.9 382.9M1459.4 386.6L1460.3 382.9M1463.8 380.0L1465.0 375.2M1461.3 380.0L1462.5 375.2M1465.1 372.3L1465.2 372.1M1462.5 372.3L1462.5 372.1M1467.0 372.1L1468.3 377.9M1464.2 372.1L1465.5 377.9M1469.1 380.9L1469.8 384.1M1466.8 380.9L1467.5 384.1M1471.4 390.9L1472.5 397.0M1468.4 390.9L1469.5 397.0M1472.3 399.9L1472.6 401.6M1470.5 399.9L1470.8 401.6M1474.0 408.5L1475.2 415.5M1472.5 408.5L1473.7 415.5M1476.1 418.5L1477.1 424.0M1473.1 418.5L1474.1 424.0M1479.8 437.1L1480.4 428.9M1477.1 437.1L1477.7 428.9M1480.0 425.9L1480.7 416.4M1478.5 425.9L1479.3 416.4M1480.8 413.4L1481.0 411.0M1478.4 413.4L1478.6 411.0M1482.5 410.9L1482.9 412.5M1480.1 410.9L1480.6 412.5M1495.8 396.5L1496.3 393.7M1493.4 396.5L1493.9 393.7M1496.4 390.7L1497.1 386.0M1494.7 390.7L1495.5 386.0M1499.2 379.1L1500.7 374.2M1497.4 379.1L1498.9 374.2M1511.9 456.0L1512.2 458.6M1509.8 456.0L1510.1 458.6M1513.0 461.6L1514.1 470.8M1510.2 461.6L1511.2 470.8M1513.7 473.8L1513.8 475.3M1512.2 473.8L1512.4 475.3M1524.8 393.9L1525.2 399.0M1522.9 393.9L1523.3 399.0M1525.5 401.9L1526.0 408.3M1524.0 401.9L1524.5 408.3M1525.9 411.3L1526.6 420.3M1524.6 411.3L1525.3 420.3M1527.4 420.3L1527.7 416.3M1525.7 420.3L1526.0 416.3M1528.8 413.3L1529.2 407.8M1526.2 413.3L1526.6 407.8M1528.5 404.8L1529.1 395.9M1526.8 404.8L1527.5 395.9M1534.6 435.9L1535.1 430.7M1531.6 435.9L1532.1 430.7M1535.0 427.7L1535.6 422.2M1532.5 427.7L1533.1 422.2M1536.0 419.2L1536.1 418.5M1533.5 419.2L1533.6 418.5M1540.1 390.4L1541.0 399.1M1537.6 390.4L1538.5 399.1M1541.5 402.1L1542.1 407.8M1539.3 402.1L1539.9 407.8M1553.3 377.6L1554.1 383.0M1551.6 377.6L1552.4 383.0M1554.3 386.0L1554.4 386.5M1552.5 386.0L1552.6 386.5M1555.1 393.5L1555.6 397.2M1553.2 393.5L1553.7 397.2M1557.1 400.2L1557.6 404.7M1554.3 400.2L1554.8 404.7M1561.3 364.9L1561.8 363.8M1558.2 364.9L1558.7 363.8M1568.5 368.5L1569.4 374.0M1566.7 368.5L1567.6 374.0M1575.6 424.0L1576.1 416.1M1573.0 424.0L1573.5 416.1M1576.3 413.1L1576.8 406.3M1574.4 413.1L1574.8 406.3M1576.7 403.3L1577.1 396.4M1574.9 403.3L1575.3 396.4M1577.9 393.4L1578.2 388.5M1575.8 393.4L1576.1 388.5M1579.2 388.2L1580.3 390.6M1576.8 388.2L1577.9 390.6M1593.7 385.3L1594.6 390.9M1591.8 385.3L1592.6 390.9M1596.1 393.9L1596.4 395.9M1593.7 393.9L1594.0 395.9M1607.1 393.4L1607.9 396.6M1605.7 393.4L1606.5 396.6M1610.7 431.0L1611.3 439.0M1608.5 431.0L1609.2 439.0M1610.5 442.0L1611.3 452.1M1609.3 442.0L1610.0 452.1M1611.7 455.1L1612.0 459.2M1610.5 455.1L1610.8 459.2M1612.4 462.2L1613.1 471.2M1611.0 462.2L1611.7 471.2M1613.4 474.2L1613.8 479.5M1611.0 474.2L1611.4 479.5M1613.7 482.4L1613.8 484.0M1611.9 482.4L1612.0 484.0M1617.6 454.0L1617.8 448.3M1615.5 454.0L1615.8 448.3M1618.4 445.3L1618.8 436.7M1615.9 445.3L1616.3 436.7M1618.5 433.7L1618.8 425.3M1616.2 433.7L1616.6 425.3M1618.9 422.3L1619.2 415.6M1616.9 422.3L1617.1 415.6M1619.1 412.6L1619.2 410.4M1616.7 412.6L1616.8 410.4M1634.4 375.3L1635.7 368.1M1631.5 375.3L1632.9 368.1M1643.6 388.4L1644.5 379.7M1641.4 388.4L1642.3 379.7M1644.7 376.8L1645.0 373.9M1642.2 376.8L1642.5 373.9M1651.9 410.9L1652.5 403.0M1650.9 410.9L1651.5 403.0M1652.7 400.0L1653.1 395.3M1651.7 400.0L1652.1 395.3M1653.5 392.3L1653.7 390.6M1652.2 392.3L1652.4 390.6M1676.4 513.4L1677.2 506.6M1673.6 513.4L1674.3 506.6M1677.7 503.7L1678.8 493.0M1674.7 503.7L1675.8 493.0M1678.5 490.0L1679.0 485.8M1676.2 490.0L1676.7 485.8M1679.3 482.9L1679.5 481.0M1677.2 482.9L1677.4 481.0M1698.2 371.6L1698.8 376.5M1696.3 371.6L1696.9 376.5M1698.6 379.5L1699.3 385.3M1696.9 379.5L1697.6 385.3M1701.2 385.3L1702.1 376.6M1698.2 385.3L1699.1 376.6M1701.6 373.7L1702.2 368.1M1700.0 373.7L1700.6 368.1M1713.1 382.9L1714.0 379.0M1710.6 382.9L1711.5 379.0M1714.9 379.1L1715.2 381.1M1713.1 379.1L1713.5 381.1M1716.5 384.1L1716.9 386.6M1713.7 384.1L1714.1 386.6M1717.6 393.5L1718.5 399.0M1715.1 393.5L1716.1 399.0M1732.9 431.5L1735.2 442.2M1731.2 431.5L1733.5 442.2M1749.8 389.1L1751.0 382.8M1747.8 389.1L1749.1 382.8M1751.5 379.9L1751.9 377.8M1749.4 379.9L1749.8 377.8M1753.3 377.8L1753.7 380.7M1750.6 377.8L1751.0 380.7M1753.8 383.7L1754.2 386.5M1752.1 383.7L1752.5 386.5M1766.9 379.7L1767.9 384.1M1764.4 379.7L1765.3 384.1M1782.8 389.1L1783.0 392.3M1780.5 389.1L1780.8 392.3M1783.0 395.3L1783.6 403.3M1781.3 395.3L1781.9 403.3M1784.6 406.3L1785.0 411.5M1782.1 406.3L1782.5 411.5M1785.0 418.5L1785.6 424.0M1783.4 418.5L1784.0 424.0M1785.7 426.9L1786.5 433.7M1784.2 426.9L1785.0 433.7M1787.0 436.7L1787.1 437.8M1784.5 436.7L1784.7 437.8M1789.4 399.1L1790.2 395.1M1787.4 399.1L1788.1 395.1M1791.0 392.1L1791.5 389.7M1788.7 392.1L1789.2 389.7M1796.9 390.4L1797.1 392.9M1795.1 390.4L1795.3 392.9M1797.5 395.9L1797.8 401.6M1794.3 395.9L1794.7 401.6M1797.2 404.6L1797.8 413.3M1795.6 404.6L1796.2 413.3M1798.8 416.3L1799.2 422.8M1796.6 416.3L1797.0 422.8M1800.8 380.4L1801.9 376.7M1798.4 380.4L1799.5 376.7M1822.1 431.5L1822.5 425.4M1819.4 431.5L1819.8 425.4M1823.2 422.4L1823.7 415.2M1820.7 422.4L1821.2 415.2M1823.1 412.2L1823.6 404.7M1820.9 412.2L1821.4 404.7M1824.0 404.7L1824.8 411.9M1822.2 404.7L1823.0 411.9M1825.5 414.9L1826.5 424.0M1823.2 414.9L1824.2 424.0M1827.1 426.9L1828.0 435.2M1824.9 426.9L1825.8 435.2M1828.6 437.8L1829.3 430.3M1826.0 437.8L1826.7 430.3M1829.3 427.3L1830.2 417.0M1827.2 427.3L1828.2 417.0M1836.2 422.9L1837.5 417.8M1835.3 422.9L1836.6 417.8M1879.6 418.1L1879.8 420.9M1878.2 418.1L1878.4 420.9M1880.7 423.9L1881.0 428.8M1878.3 423.9L1878.6 428.8M1880.9 431.8L1881.4 439.2M1878.1 431.8L1878.6 439.2M1881.1 442.2L1881.4 447.2M1878.8 442.2L1879.2 447.2M1882.1 449.6L1882.5 445.1M1879.8 449.6L1880.3 445.1M1883.3 442.1L1884.2 432.8M1880.7 442.1L1881.6 432.8M1884.5 429.8L1885.0 424.7M1881.8 429.8L1882.3 424.7M1921.6 419.6L1921.8 416.9M1919.8 419.6L1920.0 416.9M1922.3 413.9L1923.0 404.0M1919.6 413.9L1920.3 404.0M1922.2 401.1L1922.5 396.6M1920.7 401.1L1921.0 396.6M1928.4 493.5L1928.6 498.0M1927.0 493.5L1927.1 498.0M1928.8 501.0L1929.3 511.4M1926.6 501.0L1927.1 511.4M1929.9 514.4L1930.3 524.3M1927.2 514.4L1927.6 524.3M1930.3 527.3L1930.7 535.1M1928.0 527.3L1928.3 535.1M1929.7 538.1L1929.7 539.0M1927.8 538.1L1927.9 539.0M1938.5 386.5L1939.4 380.9M1935.6 386.5L1936.5 380.9M1945.1 376.5L1946.8 384.1M1942.6 376.5L1944.3 384.1M1950.6 452.1L1951.2 445.4M1947.8 452.1L1948.4 445.4M1950.7 442.4L1951.3 435.9M1949.4 442.4L1950.0 435.9M1951.2 432.9L1951.7 428.1M1949.1 432.9L1949.5 428.1M1952.7 425.1L1952.7 424.1M1950.9 425.1L1951.0 424.1M1953.2 424.1L1953.7 432.9M1951.5 424.1L1952.0 432.9M1954.3 435.9L1954.9 445.6M1951.1 435.9L1951.7 445.6M1954.5 448.6L1954.9 454.2M1952.3 448.6L1952.7 454.2M1955.3 457.2L1955.6 463.1M1952.8 457.2L1953.2 463.1M1956.1 466.1L1956.7 475.3M1953.3 466.1L1953.9 475.3M1957.6 475.3L1958.5 471.4M1955.3 475.3L1956.1 471.4M1958.2 468.5L1958.2 468.4M1956.6 468.5L1956.6 468.4M1971.8 402.2L1972.0 406.7M1970.2 402.2L1970.4 406.7M1972.5 409.7L1972.8 416.6M1970.5 409.7L1970.8 416.6M1973.2 419.6L1973.6 427.4M1970.4 419.6L1970.8 427.4M1973.5 430.4L1974.0 440.7M1971.1 430.4L1971.7 440.7M1975.0 443.7L1975.3 449.9M1972.9 443.7L1973.2 449.9M1975.4 452.9L1975.6 457.1M1972.6 452.9L1972.8 457.1M1976.5 394.1L1977.2 401.0M1975.3 394.1L1976.0 401.0M1977.4 404.0L1978.5 414.6M1976.3 404.0L1977.4 414.6M1979.8 417.6L1980.0 419.6M1977.1 417.6L1977.3 419.6M1981.6 380.4L1982.6 389.3M1979.2 380.4L1980.2 389.3M1982.3 392.3L1982.8 396.5M1981.0 392.3L1981.5 396.5M1994.4 379.3L1995.5 385.9M1991.6 379.3L1992.6 385.9M1998.5 387.8L1999.3 382.5M1997.1 387.8L1997.9 382.5M1999.5 379.5L2000.1 375.6M1998.0 379.5L1998.6 375.6M2016.1 516.5L2016.8 508.3M2013.4 516.5L2014.1 508.3M2016.4 505.3L2017.0 496.6M2014.0 505.3L2014.6 496.6M2017.9 493.6L2018.1 491.4M2014.8 493.6L2014.9 491.4M2045.3 493.4L2045.6 486.6M2043.5 493.4L2043.8 486.6M2045.6 483.6L2045.9 476.4M2044.0 483.6L2044.3 476.4M2046.0 473.4L2046.3 467.9M2044.4 473.4L2044.7 467.9M2046.3 465.0L2046.7 456.0M2043.8 465.0L2044.2 456.0M2066.5 371.6L2066.9 378.4M2064.5 371.6L2064.9 378.4M2066.7 381.4L2067.1 388.1M2064.4 381.4L2064.8 388.1M2067.9 391.1L2068.4 399.0M2065.4 391.1L2065.9 399.0M2073.7 399.1L2074.2 396.1M2072.0 399.1L2072.5 396.1M2097.1 402.2L2097.4 405.8M2094.7 402.2L2095.0 405.8M2096.9 408.8L2097.8 419.0M2095.8 408.8L2096.7 419.0M2098.7 422.0L2098.8 424.0M2096.2 422.0L2096.3 424.0M2120.7 376.5L2122.0 381.6M2118.4 376.5L2119.8 381.6M2134.8 454.0L2135.3 448.6M2132.7 454.0L2133.1 448.6M2135.1 445.6L2135.5 439.7M2133.2 445.6L2133.7 439.7M2135.4 436.7L2135.9 431.0M2134.2 436.7L2134.7 431.0M2143.1 468.4L2143.9 471.6M2140.7 468.4L2141.5 471.6M2179.0 396.0L2179.8 404.1M2176.7 396.0L2177.6 404.1M2180.4 407.1L2180.6 409.0M2178.3 407.1L2178.5 409.0M2180.8 409.0L2181.2 405.6M2178.3 409.0L2178.7 405.6M2181.0 402.7L2181.8 396.0M2179.0 402.7L2179.7 396.0M2192.3 406.6L2192.4 408.7M2190.3 406.6L2190.5 408.7M2192.0 411.7L2192.6 417.7M2190.4 411.7L2190.9 417.7M2193.6 420.7L2193.9 424.0M2191.1 420.7L2191.3 424.0M2199.5 486.5L2199.8 483.9M2198.1 486.5L2198.3 483.9M2201.0 480.9L2201.9 471.4M2199.0 480.9L2199.8 471.4M2202.2 468.4L2202.6 464.1M2199.9 468.4L2200.3 464.1M2204.2 489.0L2204.4 486.5M2201.9 489.0L2202.1 486.5M2205.3 483.5L2205.9 477.7M2203.4 483.5L2204.0 477.7M2205.4 474.7L2206.3 466.1M2203.7 474.7L2204.5 466.1M2207.5 463.1L2208.2 456.0M2205.0 463.1L2205.6 456.0M2224.9 372.7L2225.3 374.2M2222.3 372.7L2222.8 374.2M2235.3 423.5L2236.4 431.8M2233.1 423.5L2234.2 431.8M2253.2 464.6L2253.5 460.9M2250.7 464.6L2251.1 460.9M2252.9 457.9L2253.2 453.9M2251.9 457.9L2252.3 453.9M2254.6 450.9L2255.1 445.3M2251.7 450.9L2252.2 445.3M2255.3 442.3L2256.1 432.9M2252.8 442.3L2253.6 432.9M2257.3 547.1L2257.8 540.3M2254.8 547.1L2255.3 540.3M2258.4 537.3L2258.7 532.7M2256.2 537.3L2256.6 532.7M2258.7 529.7L2259.2 522.6M2256.0 529.7L2256.6 522.6M2259.0 519.6L2259.7 509.8M2257.4 519.6L2258.1 509.8M2259.6 506.8L2260.3 497.8M2257.6 506.8L2258.3 497.8M2261.0 494.8L2261.1 493.5M2259.3 494.8L2259.4 493.5"/>
<line class="tk" x1="1389.50" y1="1024.50" x2="1389.50" y2="1039.80"/>
<text class="t" x="1389.92" y="1084.00" text-anchor="middle">0</text>
<line class="tk" x1="1570.50" y1="1024.50" x2="1570.50" y2="1039.80"/>
<text class="t" x="1570.43" y="1084.00" text-anchor="middle">200</text>
<line class="tk" x1="1750.50" y1="1024.50" x2="1750.50" y2="1039.80"/>
<text class="t" x="1750.93" y="1084.00" text-anchor="middle">400</text>
<line class="tk" x1="1931.50" y1="1024.50" x2="1931.50" y2="1039.80"/>
<text class="t" x="1931.43" y="1084.00" text-anchor="middle">600</text>
<line class="tk" x1="2111.50" y1="1024.50" x2="2111.50" y2="1039.80"/>
<text class="t" x="2111.94" y="1084.00" text-anchor="middle">800</text>
<line class="tk" x1="2292.50" y1="1024.50" x2="2292.50" y2="1039.80"/>
<text class="t" x="2292.44" y="1084.00" text-anchor="middle">1000</text>
<line class="tk" x1="1329.20" y1="1024.50" x2="1344.50" y2="1024.50"/>
<line class="tk" x1="1329.20" y1="887.50" x2="1344.50" y2="887.50"/>
<line class="tk" x1="1329.20" y1="750.50" x2="1344.50" y2="750.50"/>
<line class="tk" x1="1329.20" y1="614.50" x2="1344.50" y2="614.50"/>
<line class="tk" x1="1329.20" y1="477.50" x2="1344.50" y2="477.50"/>
<line class="tk" x1="1329.20" y1="341.50" x2="1344.50" y2="341.50"/>
<rect class="sp" x="1344.50" y="341.50" width="1007.00" height="683.00"/>
<text class="t" x="1847.00" y="315.20" text-anchor="middle">Chain B (Avg: 86.45)</text>
<text class="t" x="1200" y="1151.00" text-anchor="middle">Residue Position</text>
<text class="t" transform="translate(127.00,601.5) rotate(-90)" text-anchor="middle">Predicted pLDDT Score</text>
</svg></body></html>
